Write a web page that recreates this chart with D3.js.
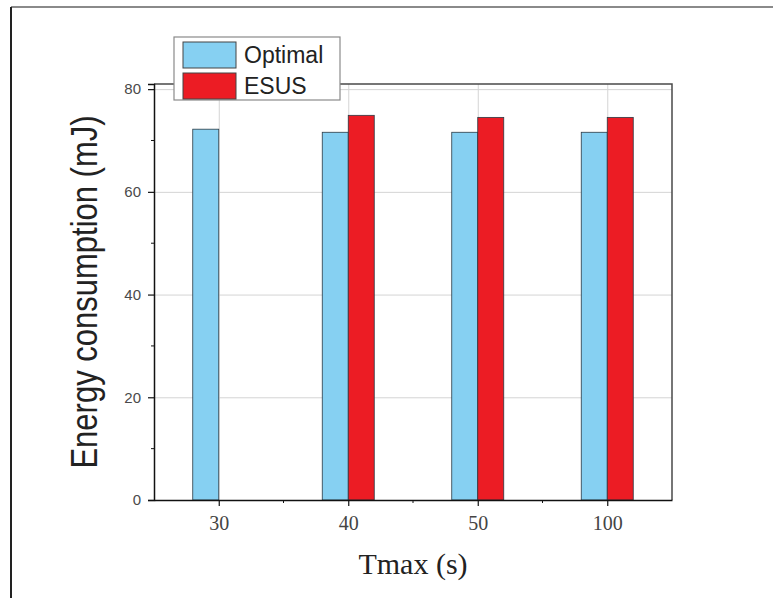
<!DOCTYPE html>
<html>
<head>
<meta charset="utf-8">
<script src="https://cdn.jsdelivr.net/npm/d3@7"></script>
<style>
  body { margin: 0; background: #fff; }
  svg { display: block; }
</style>
</head>
<body>
<div id="chart"></div>
<script>
// data
const categories = ["30", "40", "50", "100"];
const seriesNames = ["Optimal", "ESUS"];
const optimal = [72.2, 71.6, 71.6, 71.6];
const esus = [null, 74.9, 74.5, 74.5]; // no ESUS bar at 30
const yTicks = [0, 20, 40, 60, 80];
const yMinorTicks = [10, 30, 50, 70];

const width = 773, height = 598;
const plot = { left: 154, right: 672, top: 84, bottom: 500 };
const colors = { Optimal: "#86d0f2", ESUS: "#ec1c24" };

const svg = d3.select("#chart").append("svg")
    .attr("width", width)
    .attr("height", height);

// outer frame of the picture
svg.append("line")
    .attr("x1", 11).attr("y1", 7).attr("x2", width).attr("y2", 7)
    .attr("stroke", "#8a8a8a").attr("stroke-width", 2);
svg.append("line")
    .attr("x1", 11).attr("y1", 7).attr("x2", 11).attr("y2", height)
    .attr("stroke", "#222").attr("stroke-width", 2);

const x = d3.scalePoint()
    .domain(categories)
    .range([plot.left, plot.right])
    .padding(0.5);

const y = d3.scaleLinear()
    .domain([0, 81])
    .range([plot.bottom, plot.top]);

const barW = 26;
const sub = d3.scaleBand()
    .domain(seriesNames)
    .range([-barW, barW]);

// grid
const grid = svg.append("g").attr("stroke", "#d4d4d4").attr("stroke-width", 1);
grid.selectAll(".hgrid")
    .data(yTicks.filter(d => d > 0))
    .enter().append("line")
        .attr("x1", plot.left).attr("x2", plot.right)
        .attr("y1", d => y(d) + 0.5).attr("y2", d => y(d) + 0.5);
grid.selectAll(".vgrid")
    .data(categories)
    .enter().append("line")
        .attr("x1", d => x(d) + 0.5).attr("x2", d => x(d) + 0.5)
        .attr("y1", plot.top).attr("y2", plot.bottom);

// bars
const rows = categories.map((c, i) => ({ cat: c, Optimal: optimal[i], ESUS: esus[i] }));
const groups = svg.selectAll(".group")
    .data(rows)
    .enter().append("g")
        .attr("class", "group")
        .attr("transform", d => `translate(${x(d.cat)},0)`);

groups.selectAll("rect")
    .data(d => seriesNames.filter(s => d[s] != null).map(s => ({ key: s, value: d[s] })))
    .enter().append("rect")
        .attr("x", d => sub(d.key))
        .attr("y", d => y(d.value))
        .attr("width", sub.bandwidth())
        .attr("height", d => y(0) - y(d.value))
        .attr("fill", d => colors[d.key])
        .attr("stroke", "#2a3a44")
        .attr("stroke-width", 0.8);

// top and right frame of the plot
svg.append("path")
    .attr("d", `M${plot.left},${plot.top}H${plot.right}V${plot.bottom}`)
    .attr("fill", "none")
    .attr("stroke", "#4a4a4a")
    .attr("stroke-width", 1.5);

// y axis
const yAxis = svg.append("g")
    .attr("transform", `translate(${plot.left},0)`)
    .call(d3.axisLeft(y).tickValues(yTicks).tickSize(6).tickPadding(7).tickFormat(d3.format("d")));
yAxis.select(".domain").attr("stroke", "#111").attr("stroke-width", 1.5);
yAxis.selectAll(".tick line").attr("stroke", "#111").attr("stroke-width", 1.2);
yAxis.selectAll(".tick text")
    .attr("font-family", "'Liberation Sans', Arial, sans-serif")
    .attr("font-size", 15)
    .attr("fill", "#4a4a4a");
yAxis.selectAll(".minor")
    .data(yMinorTicks)
    .enter().append("line")
        .attr("x1", -3).attr("x2", 0)
        .attr("y1", d => y(d)).attr("y2", d => y(d))
        .attr("stroke", "#111");

// x axis
const xAxis = svg.append("g")
    .attr("transform", `translate(0,${plot.bottom})`)
    .call(d3.axisBottom(x).tickSize(6).tickPadding(10).tickSizeOuter(0));
xAxis.select(".domain").attr("stroke", "#111").attr("stroke-width", 1.5);
xAxis.selectAll(".tick line").attr("stroke", "#111").attr("stroke-width", 1.2);
xAxis.selectAll(".tick text")
    .attr("font-family", "'Liberation Serif', 'Times New Roman', serif")
    .attr("font-size", 20)
    .attr("fill", "#444");
const mids = categories.slice(1).map((c, i) => (x(categories[i]) + x(c)) / 2);
xAxis.selectAll(".minor")
    .data(mids)
    .enter().append("line")
        .attr("x1", d => d).attr("x2", d => d)
        .attr("y1", 0).attr("y2", 3)
        .attr("stroke", "#111");

// axis titles
svg.append("text")
    .attr("transform", "translate(97,292) scale(1.2,1) rotate(-90)")
    .attr("text-anchor", "middle")
    .attr("font-family", "'Liberation Sans', Arial, sans-serif")
    .attr("font-size", 31)
    .attr("fill", "#222")
    .text("Energy consumption (mJ)");

svg.append("text")
    .attr("x", (plot.left + plot.right) / 2)
    .attr("y", 574)
    .attr("text-anchor", "middle")
    .attr("font-family", "'Liberation Serif', 'Times New Roman', serif")
    .attr("font-size", 30)
    .attr("fill", "#222")
    .text("Tmax (s)");

// legend
const legend = svg.append("g").attr("transform", "translate(174,37)");
legend.append("rect")
    .attr("width", 166).attr("height", 63)
    .attr("fill", "#fff")
    .attr("stroke", "#8a8a8a")
    .attr("stroke-width", 1.2);
const item = legend.selectAll(".item")
    .data(seriesNames)
    .enter().append("g")
        .attr("transform", (d, i) => `translate(9,${5 + i * 31})`);
item.append("rect")
    .attr("width", 53).attr("height", 26)
    .attr("fill", d => colors[d])
    .attr("stroke", "#444")
    .attr("stroke-width", 1);
item.append("text")
    .attr("x", 61).attr("y", 21)
    .attr("font-family", "'Liberation Sans', Arial, sans-serif")
    .attr("font-size", 23)
    .attr("fill", "#222")
    .text(d => d);
</script>
</body>
</html>
